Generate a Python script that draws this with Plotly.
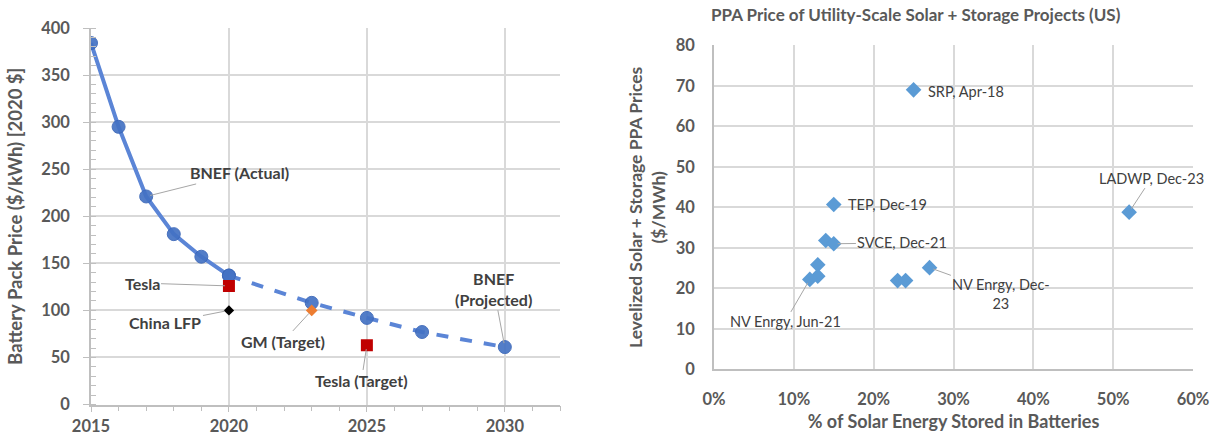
import plotly.graph_objects as go

# ---- Left panel: battery pack prices ----
actual_years = [2015, 2016, 2017, 2018, 2019, 2020]
actual_price = [384, 295, 221, 181, 157, 137]
proj_years = [2020, 2023, 2025, 2027, 2030]
proj_price = [137, 108, 92, 77, 61]
tesla_year, tesla_price = [2020], [126]
lfp_year, lfp_price = [2020], [100]
gm_year, gm_price = [2023], [100]
tesla_tgt_year, tesla_tgt_price = [2025], [63]

# ---- Right panel: solar + storage PPA prices ----
stored_share = [0.25, 0.15, 0.52, 0.14, 0.15, 0.13, 0.13, 0.12, 0.23, 0.24, 0.27]
ppa_price = [69, 40.7, 38.8, 31.8, 31.0, 25.8, 23.0, 22.2, 21.9, 21.9, 25.1]

FONT = "Lato"
GREY = "#595959"
DARK = "#404040"
GRID = "#D9D9D9"
AXIS = "#BFBFBF"
LINE_BLUE = "#5B85D6"
MARK_BLUE = "#4472C4"
DIAMOND_BLUE = "#5B9BD5"

fig = go.Figure()

marker_circle = dict(size=13, color=MARK_BLUE, opacity=0.92,
                     line=dict(color="#3A66B8", width=1))
fig.add_trace(go.Scatter(
    x=actual_years, y=actual_price, mode="lines+markers",
    line=dict(color=LINE_BLUE, width=4), marker=marker_circle,
    xaxis="x", yaxis="y", showlegend=False))
fig.add_trace(go.Scatter(
    x=proj_years, y=proj_price, mode="lines+markers",
    line=dict(color=LINE_BLUE, width=4, dash="dash"), marker=marker_circle,
    xaxis="x", yaxis="y", showlegend=False))
fig.add_trace(go.Scatter(
    x=tesla_year + tesla_tgt_year, y=tesla_price + tesla_tgt_price,
    mode="markers", marker=dict(symbol="square", size=12, color="#C00000"),
    xaxis="x", yaxis="y", showlegend=False))
fig.add_trace(go.Scatter(
    x=lfp_year, y=lfp_price, mode="markers",
    marker=dict(symbol="diamond", size=8, color="#000000"),
    xaxis="x", yaxis="y", showlegend=False))
fig.add_trace(go.Scatter(
    x=gm_year, y=gm_price, mode="markers",
    marker=dict(symbol="diamond", size=9, color="#ED7D31"),
    xaxis="x", yaxis="y", showlegend=False))

fig.add_trace(go.Scatter(
    x=stored_share, y=ppa_price, mode="markers",
    marker=dict(symbol="diamond", size=12, color=DIAMOND_BLUE),
    xaxis="x2", yaxis="y2", showlegend=False))

tick_font = dict(family=FONT, size=16.5, color=GREY, weight="bold")


def title_font(size):
    return dict(family=FONT, size=size, color=GREY, weight="bold")


fig.update_layout(
    width=1211, height=440,
    margin=dict(l=0, r=0, t=0, b=0),
    paper_bgcolor="white", plot_bgcolor="white",
    font=dict(family=FONT, color=GREY),
    xaxis=dict(
        domain=[91 / 1211, 560 / 1211], anchor="y", automargin=False,
        range=[2015, 2032], dtick=5, tick0=2015,
        showgrid=True, gridcolor=GRID, gridwidth=1.5,
        showline=True, linecolor=AXIS, linewidth=1.5,
        ticks="outside", ticklen=6, tickcolor=AXIS, ticklabelstandoff=0,
        minor=dict(dtick=1, ticks="outside", ticklen=5, tickcolor=AXIS, showgrid=False),
        tickfont=tick_font, zeroline=False,
    ),
    yaxis=dict(
        domain=[(440 - 404.5) / 440, (440 - 28) / 440], anchor="x", automargin=False,
        range=[0, 400], dtick=50,
        showgrid=True, gridcolor=GRID, gridwidth=1.5,
        showline=True, linecolor=AXIS, linewidth=1.5,
        ticks="outside", ticklen=6, tickcolor=AXIS, ticklabelstandoff=10,
        minor=dict(dtick=10, ticks="inside", ticklen=5, tickcolor=AXIS, showgrid=False),
        tickfont=tick_font, zeroline=False,
        title=dict(text="Battery Pack Price ($/kWh) [2020 $]", font=title_font(18.5), standoff=14),
    ),
    xaxis2=dict(
        domain=[714 / 1211, 1193 / 1211], anchor="y2", automargin=False,
        range=[0, 0.6], dtick=0.1, tickformat=".0%",
        showgrid=True, gridcolor=GRID, gridwidth=1.5,
        showline=True, linecolor=AXIS, linewidth=1.5,
        ticks="", ticklabelstandoff=14, tickfont=tick_font, zeroline=False,
        title=dict(text="% of Solar Energy Stored in Batteries", font=title_font(18), standoff=8),
    ),
    yaxis2=dict(
        domain=[(440 - 369.3) / 440, (440 - 45.3) / 440], anchor="x2", automargin=False,
        range=[0, 80], dtick=10,
        showgrid=True, gridcolor=GRID, gridwidth=1.5,
        showline=True, linecolor=AXIS, linewidth=1.5,
        ticks="", ticklabelstandoff=14, tickfont=tick_font, zeroline=False,
        title=dict(text="Levelized Solar + Storage PPA Prices<br>($/MWh)",
                   font=title_font(17.5), standoff=6),
    ),
)

LEAD = "#A6A6A6"


def label(text, x, y, tx, ty, xr, yr, font, arrow=True):
    if arrow:
        fig.add_annotation(
            x=x, y=y, ax=tx, ay=ty, axref=xr, ayref=yr, xref=xr, yref=yr,
            text=text, showarrow=True, arrowhead=0, arrowwidth=1,
            arrowcolor=LEAD, font=font, align="center", standoff=4)
    else:
        fig.add_annotation(
            x=tx, y=ty, xref=xr, yref=yr, text=text, showarrow=False,
            font=font, align="center", xanchor="center")


left_font = dict(family=FONT, size=16, color=DARK, weight="bold")
right_font = dict(family=FONT, size=14.5, color=DARK)

# left panel labels
label("BNEF (Actual)", 2017, 221, 2020.4, 246, "x", "y", left_font)
label("Tesla", 2020, 126, 2016.85, 129, "x", "y", left_font)
label("China LFP", 2020, 100, 2017.7, 86.7, "x", "y", left_font)
label("GM (Target)", 2023, 100, 2021.95, 66.5, "x", "y", left_font)
label("Tesla (Target)", 2025, 63, 2024.8, 25, "x", "y", left_font)
label("BNEF<br>(Projected)", 2030, 61, 2029.6, 123, "x", "y", left_font)

# right panel labels
label("SRP, Apr-18", 0.25, 69, 0.316, 68.7, "x2", "y2", right_font, arrow=False)
label("TEP, Dec-19", 0.15, 40.7, 0.217, 40.7, "x2", "y2", right_font, arrow=False)
label("LADWP, Dec-23", 0.52, 38.8, 0.548, 47.2, "x2", "y2", right_font)
label("SVCE, Dec-21", 0.15, 31.0, 0.236, 31.2, "x2", "y2", right_font)
label("NV Enrgy, Jun-21", 0.12, 22.2, 0.089, 11.7, "x2", "y2", right_font)
label("NV Enrgy, Dec-<br>23", 0.27, 25.1, 0.36, 18.7, "x2", "y2", right_font)

fig.add_annotation(
    text="PPA Price of Utility-Scale Solar + Storage Projects (US)",
    xref="paper", yref="paper", x=916 / 1211, y=(440 - 15) / 440,
    xanchor="center", yanchor="middle",
    showarrow=False, font=dict(family=FONT, size=17, color=GREY, weight="bold"))

fig.write_html("out.html")
